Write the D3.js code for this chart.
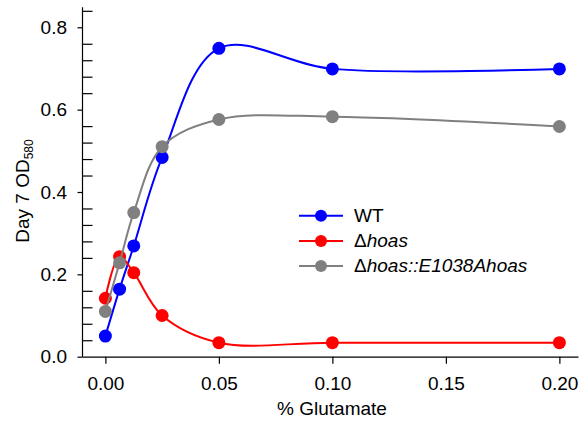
<!DOCTYPE html>
<html>
<head>
<meta charset="utf-8">
<script src="https://cdn.jsdelivr.net/npm/d3@7"></script>
<style>
  html, body { margin: 0; padding: 0; background: #fff; }
  svg { display: block; font-family: "Liberation Sans", Arial, sans-serif; }
</style>
</head>
<body>
<svg id="chart" width="584" height="427"></svg>
<script>
// Glutamate concentrations (%)
const glutamate = [0, 0.00625, 0.0125, 0.025, 0.05, 0.1, 0.2];

// Day 7 OD580 for each strain
const wtOD         = [0.050, 0.164, 0.269, 0.484, 0.749, 0.699, 0.699];
const hoasOD       = [0.142, 0.243, 0.204, 0.100, 0.034, 0.034, 0.034];
const complementOD = [0.110, 0.228, 0.350, 0.510, 0.576, 0.583, 0.559];

const seriesNames  = ["WT", "\u0394hoas", "\u0394hoas::E1038Ahoas"];
const seriesColors = ["#0000ff", "#ff0000", "#808080"];

const xTicks      = [0, 0.05, 0.10, 0.15, 0.20];
const yTicks      = [0, 0.2, 0.4, 0.6, 0.8];
const yMinorTicks = [0.04, 0.08, 0.12, 0.16, 0.24, 0.28, 0.32, 0.36,
                     0.44, 0.48, 0.52, 0.56, 0.64, 0.68, 0.72, 0.76, 0.84];

const series = [wtOD, hoasOD, complementOD].map((vals, i) => ({
  name: seriesNames[i],
  color: seriesColors[i],
  points: glutamate.map((g, j) => ({ x: g, y: vals[j] }))
}));

const svg = d3.select("#chart");
const FONT = 19;

const x = d3.scaleLinear().domain([-0.0103, 0.2082]).range([82, 578]);
const y = d3.scaleLinear().domain([0, 0.85]).range([356.7, 6.7]);

// X axis
svg.append("g")
  .attr("transform", `translate(0,${y(0)})`)
  .call(d3.axisBottom(x).tickValues(xTicks).tickFormat(d3.format(".2f"))
    .tickSize(7).tickSizeOuter(0).tickPadding(12.5));

// Y axis (major ticks outward)
svg.append("g")
  .attr("transform", `translate(${x.range()[0]},0)`)
  .call(d3.axisLeft(y).tickValues(yTicks).tickFormat(d3.format(".1f"))
    .tickSize(4.5).tickSizeOuter(0).tickPadding(10.5));

// Y minor ticks (inward)
svg.append("g")
  .attr("transform", `translate(${x.range()[0]},0)`)
  .call(d3.axisRight(y).tickValues(yMinorTicks).tickFormat("").tickSize(10.5).tickSizeOuter(0))
  .call(g => g.select(".domain").remove());

svg.selectAll(".tick text").attr("font-size", FONT).attr("fill", "#000")
  .attr("font-family", "Liberation Sans, Arial, sans-serif");
svg.selectAll(".tick line, .domain").attr("stroke", "#000").attr("stroke-width", 1.2);

// Axis titles
svg.append("text")
  .attr("x", 332).attr("y", 414.5)
  .attr("text-anchor", "middle").attr("font-size", FONT)
  .text("% Glutamate");

const yTitle = svg.append("text")
  .attr("transform", "translate(28.5,191) rotate(-90)")
  .attr("text-anchor", "middle").attr("font-size", FONT);
yTitle.append("tspan").text("Day 7 OD");
yTitle.append("tspan").attr("font-size", 12).attr("dy", 4.5).text("580");

// Series: smoothed line then markers
const line = d3.line().x(d => x(d.x)).y(d => y(d.y)).curve(d3.curveCatmullRom.alpha(0.5));

series.forEach(s => {
  const g = svg.append("g");
  g.append("path").datum(s.points)
    .attr("d", line).attr("fill", "none")
    .attr("stroke", s.color).attr("stroke-width", 2);
  g.selectAll("circle").data(s.points).join("circle")
    .attr("cx", d => x(d.x)).attr("cy", d => y(d.y))
    .attr("r", 6.5).attr("fill", s.color);
});

// Legend
const legend = svg.append("g");
series.forEach((s, i) => {
  const cy = 215.7 + i * 25.2;
  legend.append("line")
    .attr("x1", 299).attr("x2", 343).attr("y1", cy).attr("y2", cy)
    .attr("stroke", s.color).attr("stroke-width", 2);
  legend.append("circle").attr("cx", 321).attr("cy", cy).attr("r", 6).attr("fill", s.color);
  const t = legend.append("text").attr("x", 354).attr("y", cy + 6.3).attr("font-size", FONT);
  if (s.name.startsWith("\u0394")) {
    t.append("tspan").text("\u0394");
    t.append("tspan").attr("font-style", "italic").text(s.name.slice(1));
  } else {
    t.text(s.name);
  }
});
</script>
</body>
</html>
